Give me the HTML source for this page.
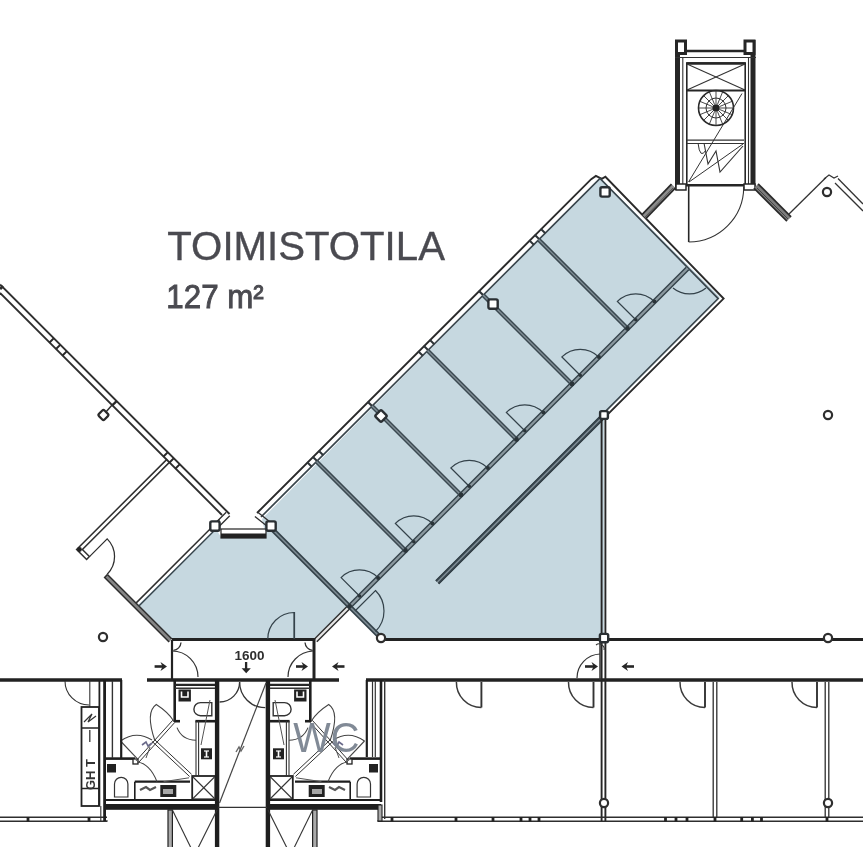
<!DOCTYPE html>
<html><head><meta charset="utf-8"><style>
html,body{margin:0;padding:0;background:#fff;}
body{width:863px;height:847px;overflow:hidden;}
svg{display:block;filter:blur(0.6px);}
</style></head><body>
<svg width="863" height="847" viewBox="0 0 863 847" shape-rendering="geometricPrecision">
<rect width="863" height="847" fill="#fff"/>
<polygon points="138,605 216,529 221,537 266,537 262,519 600,178 720,297 604,414 604,639 381,639 349,607 313,639 172,639" fill="#c6d8e0" stroke="none" stroke-width="1"/>
<line x1="0" y1="284.5" x2="229.5" y2="514" stroke="#2e2e2e" stroke-width="1.9" />
<line x1="0" y1="293" x2="222" y2="515" stroke="#2e2e2e" stroke-width="1.9" />
<line x1="226.2" y1="512.2" x2="214.2" y2="524.2" stroke="#2e2e2e" stroke-width="1.3" />
<line x1="229.8" y1="515.8" x2="217.8" y2="527.8" stroke="#2e2e2e" stroke-width="1.3" />
<line x1="53.9" y1="338.1" x2="49.3" y2="342.7" stroke="#2a2a2a" stroke-width="2.0" />
<line x1="60.4" y1="344.6" x2="55.8" y2="349.2" stroke="#2a2a2a" stroke-width="2.0" />
<line x1="66.9" y1="351.1" x2="62.3" y2="355.7" stroke="#2a2a2a" stroke-width="2.0" />
<line x1="116.8" y1="400.9" x2="112.2" y2="405.5" stroke="#2a2a2a" stroke-width="2.4" />
<line x1="167.9" y1="452.1" x2="163.3" y2="456.7" stroke="#2a2a2a" stroke-width="2.0" />
<line x1="173.9" y1="458.1" x2="169.3" y2="462.7" stroke="#2a2a2a" stroke-width="2.0" />
<line x1="179.9" y1="464.1" x2="175.3" y2="468.7" stroke="#2a2a2a" stroke-width="2.0" />
<line x1="0" y1="289" x2="3" y2="286" stroke="#2e2e2e" stroke-width="3" />
<line x1="113" y1="404" x2="105" y2="413" stroke="#2e2e2e" stroke-width="1.5" />
<polyline points="167.1,459.1 76.6,549.5 86.6,559.5 89.4,556.5 82.4,549.5 169.9,461.9" fill="none" stroke="#2e2e2e" stroke-width="1.5" stroke-linejoin="miter"/>
<circle cx="79.5" cy="549.5" r="2.4" fill="#222"/>
<path d="M89.5,556.6 L107.2,538.9 A25,25 0 0 1 107.2,574.3" fill="none" stroke="#2e2e2e" stroke-width="1.25" />
<polygon points="107.4,574.5 171.9,639 169.1,642 104.6,577.5" fill="#858585" stroke="none" stroke-width="1"/>
<polyline points="107.4,574.5 104.6,577.5 169.1,642" fill="none" stroke="#2e2e2e" stroke-width="1.5" stroke-linejoin="miter"/>
<polyline points="107.4,574.5 171.9,639" fill="none" stroke="#2e2e2e" stroke-width="1.5" stroke-linejoin="miter"/>
<polyline points="136,603.1 219.6,519.5" fill="none" stroke="#2e2e2e" stroke-width="1.5" stroke-linejoin="miter"/>
<polyline points="138.9,606 217.4,527.5" fill="none" stroke="#34424a" stroke-width="1.4" stroke-linejoin="miter"/>
<rect x="221" y="529" width="45" height="9" fill="#fff" stroke="#222" stroke-width="1.2"/>
<rect x="221" y="533.5" width="45" height="4.5" fill="#222"/>
<polyline points="257,513 591.2,179.2 595.9,175.9 601.8,178.9 605.4,176.8 723.6,298.6 438.5,583.5" fill="none" stroke="#2a2a2a" stroke-width="1.9" stroke-linejoin="miter"/>
<polyline points="261,517 600,178.5 718.2,298.6 436,581" fill="none" stroke="#39454c" stroke-width="1.7" stroke-linejoin="miter"/>
<polygon points="601.5,415.5 604,418 438.5,583.5 436,581" fill="#7d8b93" stroke="none" stroke-width="1"/>
<line x1="601.5" y1="415.5" x2="436" y2="581" stroke="#34424a" stroke-width="1.9" />
<line x1="604" y1="418" x2="438.5" y2="583.5" stroke="#34424a" stroke-width="1.9" />
<line x1="254.9" y1="516.5" x2="269.4" y2="528" stroke="#2e2e2e" stroke-width="1.3" />
<line x1="258.1" y1="512.5" x2="272.6" y2="524" stroke="#2e2e2e" stroke-width="1.3" />
<line x1="540.7" y1="228.7" x2="545.3" y2="233.3" stroke="#2e3438" stroke-width="2.0" />
<line x1="534.7" y1="234.7" x2="539.3" y2="239.3" stroke="#2e3438" stroke-width="2.0" />
<line x1="529.2" y1="240.2" x2="533.8" y2="244.8" stroke="#2e3438" stroke-width="2.0" />
<line x1="429.7" y1="339.7" x2="434.3" y2="344.3" stroke="#2e3438" stroke-width="2.0" />
<line x1="423.7" y1="345.7" x2="428.3" y2="350.3" stroke="#2e3438" stroke-width="2.0" />
<line x1="418.2" y1="351.2" x2="422.8" y2="355.8" stroke="#2e3438" stroke-width="2.0" />
<line x1="318.7" y1="450.7" x2="323.3" y2="455.3" stroke="#2e3438" stroke-width="2.0" />
<line x1="312.7" y1="456.7" x2="317.3" y2="461.3" stroke="#2e3438" stroke-width="2.0" />
<line x1="307.2" y1="462.2" x2="311.8" y2="466.8" stroke="#2e3438" stroke-width="2.0" />
<line x1="478.7" y1="290.7" x2="483.3" y2="295.3" stroke="#2e3438" stroke-width="2.2" />
<line x1="367.7" y1="401.7" x2="372.3" y2="406.3" stroke="#2e3438" stroke-width="2.2" />
<polygon points="686.2,267.2 347.7,605.7 350.3,608.3 688.8,269.8" fill="#8a989f"/>
<line x1="686.2" y1="267.2" x2="347.7" y2="605.7" stroke="#34424a" stroke-width="1.4" />
<line x1="688.8" y1="269.8" x2="350.3" y2="608.3" stroke="#34424a" stroke-width="1.4" />
<polygon points="347.7,605.7 314.2,639.2 316.8,641.8 350.3,608.3" fill="#e6e6e6"/>
<line x1="347.7" y1="605.7" x2="314.2" y2="639.2" stroke="#2e2e2e" stroke-width="1.4" />
<line x1="350.3" y1="608.3" x2="316.8" y2="641.8" stroke="#2e2e2e" stroke-width="1.4" />
<polygon points="537.5,240.5 626.5,329.5 628.5,327.5 539.5,238.5" fill="#7f8d95"/>
<line x1="537.5" y1="240.5" x2="626.5" y2="329.5" stroke="#3a4850" stroke-width="1.5" />
<line x1="539.5" y1="238.5" x2="628.5" y2="327.5" stroke="#3a4850" stroke-width="1.5" />
<polygon points="482,296 571,385 573,383 484,294" fill="#7f8d95"/>
<line x1="482" y1="296" x2="571" y2="385" stroke="#3a4850" stroke-width="1.5" />
<line x1="484" y1="294" x2="573" y2="383" stroke="#3a4850" stroke-width="1.5" />
<polygon points="426.5,351.5 515.5,440.5 517.5,438.5 428.5,349.5" fill="#7f8d95"/>
<line x1="426.5" y1="351.5" x2="515.5" y2="440.5" stroke="#3a4850" stroke-width="1.5" />
<line x1="428.5" y1="349.5" x2="517.5" y2="438.5" stroke="#3a4850" stroke-width="1.5" />
<polygon points="371,407 460,496 462,494 373,405" fill="#7f8d95"/>
<line x1="371" y1="407" x2="460" y2="496" stroke="#3a4850" stroke-width="1.5" />
<line x1="373" y1="405" x2="462" y2="494" stroke="#3a4850" stroke-width="1.5" />
<polygon points="315.5,462.5 404.5,551.5 406.5,549.5 317.5,460.5" fill="#7f8d95"/>
<line x1="315.5" y1="462.5" x2="404.5" y2="551.5" stroke="#3a4850" stroke-width="1.5" />
<line x1="317.5" y1="460.5" x2="406.5" y2="549.5" stroke="#3a4850" stroke-width="1.5" />
<polygon points="269.4,528.6 379.9,639.1 382.1,636.9 271.6,526.4" fill="#7f8d95"/>
<line x1="269.4" y1="528.6" x2="379.9" y2="639.1" stroke="#34424a" stroke-width="1.6" />
<line x1="271.6" y1="526.4" x2="382.1" y2="636.9" stroke="#34424a" stroke-width="1.6" />
<path d="M635.8,319.8 L617.4,301.4 A26,26 0 0 1 654.1,301.4" fill="none" stroke="#34424a" stroke-width="1.25" />
<circle cx="627.5" cy="328.5" r="2.4" fill="#2a3439"/>
<circle cx="654.4" cy="301.6" r="2" fill="#2a3439"/>
<circle cx="635.8" cy="319.8" r="1.8" fill="#2a3439"/>
<path d="M580.2,375.2 L561.9,356.9 A26,26 0 0 1 598.6,356.9" fill="none" stroke="#34424a" stroke-width="1.25" />
<circle cx="572" cy="384" r="2.4" fill="#2a3439"/>
<circle cx="598.9" cy="357.1" r="2" fill="#2a3439"/>
<circle cx="580.2" cy="375.2" r="1.8" fill="#2a3439"/>
<path d="M524.8,430.8 L506.4,412.4 A26,26 0 0 1 543.1,412.4" fill="none" stroke="#34424a" stroke-width="1.25" />
<circle cx="516.5" cy="439.5" r="2.4" fill="#2a3439"/>
<circle cx="543.4" cy="412.6" r="2" fill="#2a3439"/>
<circle cx="524.8" cy="430.8" r="1.8" fill="#2a3439"/>
<path d="M469.2,486.2 L450.9,467.9 A26,26 0 0 1 487.6,467.9" fill="none" stroke="#34424a" stroke-width="1.25" />
<circle cx="461" cy="495" r="2.4" fill="#2a3439"/>
<circle cx="487.9" cy="468.1" r="2" fill="#2a3439"/>
<circle cx="469.2" cy="486.2" r="1.8" fill="#2a3439"/>
<path d="M413.8,541.8 L395.4,523.4 A26,26 0 0 1 432.1,523.4" fill="none" stroke="#34424a" stroke-width="1.25" />
<circle cx="405.5" cy="550.5" r="2.4" fill="#2a3439"/>
<circle cx="432.4" cy="523.6" r="2" fill="#2a3439"/>
<circle cx="413.8" cy="541.8" r="1.8" fill="#2a3439"/>
<path d="M359.5,596 L341.1,577.6 A26,26 0 0 1 377.9,577.6" fill="none" stroke="#34424a" stroke-width="1.25" />
<circle cx="349.5" cy="606.5" r="2.4" fill="#2a3439"/>
<circle cx="378.1" cy="577.9" r="2" fill="#2a3439"/>
<circle cx="359.5" cy="596" r="1.8" fill="#2a3439"/>
<path d="M673,288 A26,26 0 0 0 706,288" fill="none" stroke="#34424a" stroke-width="1.25" />
<path d="M355,611 L375.5,590.5 A29,29 0 0 1 375.5,631.5" fill="none" stroke="#34424a" stroke-width="1.2" />
<line x1="172" y1="639.6" x2="314" y2="639.6" stroke="#222" stroke-width="3" />
<line x1="381" y1="639.6" x2="863" y2="639.6" stroke="#222" stroke-width="3" />
<path d="M294.3,639 L294.3,612.5 A26.5,26.5 0 0 0 267.8,639" fill="none" stroke="#34424a" stroke-width="1.2" />
<line x1="294.3" y1="612" x2="294.3" y2="639" stroke="#34424a" stroke-width="1.6" />
<line x1="172" y1="640" x2="172" y2="680" stroke="#222" stroke-width="2.2" />
<line x1="314" y1="638" x2="314" y2="681" stroke="#222" stroke-width="3" />
<path d="M172,651 A26,26 0 0 1 198,677" fill="none" stroke="#333" stroke-width="1.2" />
<path d="M288,677 A26,26 0 0 1 313,651" fill="none" stroke="#333" stroke-width="1.2" />
<path d="M173.4,650.4 A8.5,8.5 0 0 0 181,642.5" fill="none" stroke="#333" stroke-width="1.3" />
<path d="M312.6,650.4 A8.5,8.5 0 0 1 305,642.5" fill="none" stroke="#333" stroke-width="1.3" />
<line x1="0" y1="680" x2="122" y2="680" stroke="#222" stroke-width="3.7" />
<line x1="147" y1="680" x2="339" y2="680" stroke="#222" stroke-width="3.7" />
<line x1="366" y1="680" x2="863" y2="680" stroke="#222" stroke-width="3.7" />
<line x1="601.6" y1="419" x2="601.6" y2="822" stroke="#262626" stroke-width="1.9" />
<line x1="605.4" y1="419" x2="605.4" y2="822" stroke="#262626" stroke-width="1.9" />
<path d="M577,678 A24,24 0 0 1 600,654" fill="none" stroke="#333" stroke-width="1.2" />
<line x1="600" y1="640" x2="600" y2="680" stroke="#333" stroke-width="1.5" />
<path d="M596,645 A5,5 0 0 1 604,650" fill="none" stroke="#333" stroke-width="1.1" />
<line x1="154.6" y1="666.5" x2="164" y2="666.5" stroke="#262626" stroke-width="2.6" />
<path d="M160.5,662 L167,666.5 L160.5,671 L162.5,666.5 Z" fill="#262626"/>
<line x1="296" y1="666.5" x2="305" y2="666.5" stroke="#262626" stroke-width="2.6" />
<path d="M301.5,662 L308,666.5 L301.5,671 L303.5,666.5 Z" fill="#262626"/>
<line x1="344.5" y1="666.5" x2="335" y2="666.5" stroke="#262626" stroke-width="2.6" />
<path d="M338.5,662 L332,666.5 L338.5,671 L336.5,666.5 Z" fill="#262626"/>
<line x1="585" y1="666.5" x2="595" y2="666.5" stroke="#262626" stroke-width="2.6" />
<path d="M591.5,662 L598,666.5 L591.5,671 L593.5,666.5 Z" fill="#262626"/>
<line x1="634" y1="666.5" x2="624.5" y2="666.5" stroke="#262626" stroke-width="2.6" />
<path d="M628,662 L621.5,666.5 L628,671 L626,666.5 Z" fill="#262626"/>
<text x="0" y="0" font-family="Liberation Sans" font-size="12.6" font-weight="bold" fill="#2e2e2e" transform="translate(234.6,659.8) scale(1.07,1)">1600</text>
<line x1="246.1" y1="662" x2="246.1" y2="669.5" stroke="#262626" stroke-width="2.3" />
<path d="M241.6,668.3 L250.8,668.3 L246.2,673.2 Z" fill="#262626"/>
<line x1="378" y1="821.3" x2="863" y2="821.3" stroke="#2e2e2e" stroke-width="1.4" />
<line x1="378" y1="817.3" x2="863" y2="817.3" stroke="#2e2e2e" stroke-width="1.4" />
<line x1="0" y1="821.3" x2="107" y2="821.3" stroke="#2e2e2e" stroke-width="1.4" />
<line x1="0" y1="817.3" x2="107" y2="817.3" stroke="#2e2e2e" stroke-width="1.4" />
<line x1="28" y1="817" x2="28" y2="821.5" stroke="#222" stroke-width="2.8" />
<line x1="89" y1="817" x2="89" y2="821.5" stroke="#222" stroke-width="2.8" />
<line x1="392" y1="817" x2="392" y2="821.5" stroke="#222" stroke-width="2.8" />
<line x1="456" y1="817" x2="456" y2="821.5" stroke="#222" stroke-width="2.8" />
<line x1="493" y1="817" x2="493" y2="821.5" stroke="#222" stroke-width="2.8" />
<line x1="521" y1="817" x2="521" y2="821.5" stroke="#222" stroke-width="2.8" />
<line x1="530" y1="817" x2="530" y2="821.5" stroke="#222" stroke-width="2.8" />
<line x1="539" y1="817" x2="539" y2="821.5" stroke="#222" stroke-width="2.8" />
<line x1="665.5" y1="817" x2="665.5" y2="821.5" stroke="#222" stroke-width="2.8" />
<line x1="676" y1="817" x2="676" y2="821.5" stroke="#222" stroke-width="2.8" />
<line x1="687" y1="817" x2="687" y2="821.5" stroke="#222" stroke-width="2.8" />
<line x1="715" y1="817" x2="715" y2="821.5" stroke="#222" stroke-width="2.8" />
<line x1="741.7" y1="817" x2="741.7" y2="821.5" stroke="#222" stroke-width="2.8" />
<line x1="752.4" y1="817" x2="752.4" y2="821.5" stroke="#222" stroke-width="2.8" />
<line x1="761.5" y1="817" x2="761.5" y2="821.5" stroke="#222" stroke-width="2.8" />
<line x1="827" y1="817" x2="827" y2="821.5" stroke="#222" stroke-width="2.8" />
<line x1="713.2" y1="682" x2="713.2" y2="817" stroke="#2e2e2e" stroke-width="1.3" />
<line x1="716.8" y1="682" x2="716.8" y2="817" stroke="#2e2e2e" stroke-width="1.3" />
<line x1="825.2" y1="682" x2="825.2" y2="817" stroke="#2e2e2e" stroke-width="1.3" />
<line x1="828.8" y1="682" x2="828.8" y2="817" stroke="#2e2e2e" stroke-width="1.3" />
<line x1="481.4" y1="682" x2="481.4" y2="707.5" stroke="#333" stroke-width="1.9" />
<path d="M456.4,682 A25,25 0 0 0 481.4,707.5" fill="none" stroke="#3a3a3a" stroke-width="1.5" />
<line x1="593.5" y1="682" x2="593.5" y2="707.5" stroke="#333" stroke-width="1.9" />
<path d="M568.5,682 A25,25 0 0 0 593.5,707.5" fill="none" stroke="#3a3a3a" stroke-width="1.5" />
<line x1="705" y1="682" x2="705" y2="707.5" stroke="#333" stroke-width="1.9" />
<path d="M680,682 A25,25 0 0 0 705,707.5" fill="none" stroke="#3a3a3a" stroke-width="1.5" />
<line x1="817" y1="682" x2="817" y2="707.5" stroke="#333" stroke-width="1.9" />
<path d="M792,682 A25,25 0 0 0 817,707.5" fill="none" stroke="#3a3a3a" stroke-width="1.5" />
<text x="167.3" y="259.6" font-family="Liberation Sans" font-size="40.2" font-weight="normal" fill="#4a4a50" stroke="#4a4a50" stroke-width="0.35">TOIMISTOTILA</text>
<text x="0" y="0" font-family="Liberation Sans" font-size="32.8" fill="#4a4a50" stroke="#4a4a50" stroke-width="0.9" transform="translate(166.3,308.4) scale(0.955,1)">127 m²</text>
<rect x="675" y="40" width="5" height="150" fill="#262626"/>
<rect x="750.5" y="40" width="5" height="150" fill="#262626"/>
<rect x="676.5" y="41" width="9" height="12.5" fill="#fff" stroke="#262626" stroke-width="3"/>
<rect x="745" y="41" width="9" height="12.5" fill="#fff" stroke="#262626" stroke-width="3"/>
<line x1="686" y1="51" x2="745" y2="51" stroke="#262626" stroke-width="2.6" />
<line x1="675" y1="57.5" x2="756" y2="57.5" stroke="#333" stroke-width="1.2" />
<line x1="682.8" y1="57" x2="682.8" y2="189" stroke="#333" stroke-width="1.1" />
<line x1="748.5" y1="57" x2="748.5" y2="189" stroke="#333" stroke-width="1.1" />
<rect x="686.8" y="63" width="58.4" height="122" fill="none" stroke="#262626" stroke-width="1.6"/>
<line x1="686.8" y1="63.5" x2="745.2" y2="63.5" stroke="#262626" stroke-width="2.4" />
<line x1="687" y1="64" x2="745" y2="90" stroke="#333" stroke-width="1.1" />
<line x1="745" y1="64" x2="687" y2="90" stroke="#333" stroke-width="1.1" />
<line x1="686.8" y1="90.5" x2="745.2" y2="90.5" stroke="#262626" stroke-width="2.2" />
<circle cx="716" cy="108" r="17.5" fill="none" stroke="#2a2a2a" stroke-width="1.6"/>
<circle cx="716" cy="108" r="10" fill="none" stroke="#333" stroke-width="1.0"/>
<line x1="720" y1="108" x2="733.5" y2="108" stroke="#333" stroke-width="0.9" />
<line x1="719.7" y1="109.5" x2="732.2" y2="114.7" stroke="#333" stroke-width="0.9" />
<line x1="718.8" y1="110.8" x2="728.4" y2="120.4" stroke="#333" stroke-width="0.9" />
<line x1="717.5" y1="111.7" x2="722.7" y2="124.2" stroke="#333" stroke-width="0.9" />
<line x1="716" y1="112" x2="716" y2="125.5" stroke="#333" stroke-width="0.9" />
<line x1="714.5" y1="111.7" x2="709.3" y2="124.2" stroke="#333" stroke-width="0.9" />
<line x1="713.2" y1="110.8" x2="703.6" y2="120.4" stroke="#333" stroke-width="0.9" />
<line x1="712.3" y1="109.5" x2="699.8" y2="114.7" stroke="#333" stroke-width="0.9" />
<line x1="712" y1="108" x2="698.5" y2="108" stroke="#333" stroke-width="0.9" />
<line x1="712.3" y1="106.5" x2="699.8" y2="101.3" stroke="#333" stroke-width="0.9" />
<line x1="713.2" y1="105.2" x2="703.6" y2="95.6" stroke="#333" stroke-width="0.9" />
<line x1="714.5" y1="104.3" x2="709.3" y2="91.8" stroke="#333" stroke-width="0.9" />
<line x1="716" y1="104" x2="716" y2="90.5" stroke="#333" stroke-width="0.9" />
<line x1="717.5" y1="104.3" x2="722.7" y2="91.8" stroke="#333" stroke-width="0.9" />
<line x1="718.8" y1="105.2" x2="728.4" y2="95.6" stroke="#333" stroke-width="0.9" />
<line x1="719.7" y1="106.5" x2="732.2" y2="101.3" stroke="#333" stroke-width="0.9" />
<circle cx="716" cy="108" r="3.8" fill="#222" stroke="#222" stroke-width="0"/>
<line x1="742" y1="93.5" x2="688.5" y2="182" stroke="#333" stroke-width="1.0" />
<line x1="743" y1="144" x2="689" y2="182" stroke="#333" stroke-width="1.0" />
<line x1="687" y1="143.5" x2="744" y2="143.5" stroke="#333" stroke-width="1.2" />
<line x1="687" y1="140.1" x2="744" y2="140.1" stroke="#333" stroke-width="1.2" />
<path d="M704,143 L708,164 L716,151 L720,172 L743,146" fill="none" stroke="#333" stroke-width="1.1" />
<path d="M698,143 Q700,160 706,150" fill="none" stroke="#333" stroke-width="1.0" />
<line x1="686" y1="185.3" x2="746" y2="185.3" stroke="#262626" stroke-width="2.6" />
<rect x="676" y="184" width="10" height="6" fill="#fff" stroke="#262626" stroke-width="1.5"/>
<rect x="744" y="184" width="11" height="6" fill="#fff" stroke="#262626" stroke-width="1.5"/>
<line x1="688.7" y1="185" x2="688.7" y2="242" stroke="#262626" stroke-width="1.6" />
<path d="M743.7,187 A55,55 0 0 1 688.7,242" fill="none" stroke="#333" stroke-width="1.1" />
<polygon points="671.5,184.1 642,214.6 646,218.4 675.5,187.9" fill="#8c8c8c"/>
<line x1="671.5" y1="184.1" x2="642" y2="214.6" stroke="#2a2a2a" stroke-width="1.7" />
<line x1="675.5" y1="187.9" x2="646" y2="218.4" stroke="#2a2a2a" stroke-width="1.7" />
<line x1="673" y1="188" x2="645" y2="217" stroke="#555" stroke-width="1.0" />
<polygon points="753.9,188.1 786.9,221.1 791.1,216.9 758.1,183.9" fill="#7c7c7c"/>
<line x1="753.9" y1="188.1" x2="786.9" y2="221.1" stroke="#2a2a2a" stroke-width="1.7" />
<line x1="758.1" y1="183.9" x2="791.1" y2="216.9" stroke="#2a2a2a" stroke-width="1.7" />
<line x1="757" y1="188" x2="788" y2="219" stroke="#444" stroke-width="1.0" />
<line x1="789" y1="214" x2="826" y2="177.5" stroke="#333" stroke-width="1.3" />
<path d="M824,179 L829,175 L834,178 L838,176" fill="none" stroke="#333" stroke-width="1.2" />
<line x1="838" y1="178.5" x2="863" y2="204" stroke="#333" stroke-width="1.3" />
<line x1="835" y1="183" x2="863" y2="211" stroke="#333" stroke-width="1.3" />
<g><line x1="104" y1="758.6" x2="135" y2="758.6" stroke="#1e1e1e" stroke-width="2.6" /><rect x="133" y="759" width="5" height="5" fill="#fff" stroke="#222" stroke-width="1.3"/><rect x="107" y="764" width="9" height="8.5" fill="#222"/><path d="M114.5,797 L114.5,784 A6.7,6.7 0 0 1 127.9,784 L127.9,797 Z" fill="#fff" stroke="#333" stroke-width="1.2"/><line x1="104" y1="800" x2="218" y2="800" stroke="#1e1e1e" stroke-width="2.2" /><rect x="104" y="804" width="114" height="5.8" fill="#1e1e1e"/><line x1="134.8" y1="781.7" x2="134.8" y2="800" stroke="#1e1e1e" stroke-width="1.6" /><line x1="134.8" y1="781.7" x2="190" y2="781.7" stroke="#1e1e1e" stroke-width="2.2" /><rect x="160.3" y="785" width="16" height="12" fill="#222"/><rect x="163" y="789" width="10" height="5" fill="#fff" opacity="0.6"/><path d="M140,790 L146,787 L150,790 L156,787" fill="none" stroke="#555" stroke-width="2.2" /><rect x="192.2" y="776" width="23.1" height="23.3" fill="none" stroke="#222" stroke-width="1.8"/><line x1="193" y1="777" x2="214.5" y2="798.5" stroke="#333" stroke-width="1.1" /><line x1="214.5" y1="777" x2="193" y2="798.5" stroke="#333" stroke-width="1.1" /><line x1="174.7" y1="680" x2="174.7" y2="722" stroke="#1e1e1e" stroke-width="2.6" /><line x1="174.7" y1="721.2" x2="180" y2="721.2" stroke="#1e1e1e" stroke-width="2.6" /><line x1="195.4" y1="721.2" x2="216" y2="721.2" stroke="#1e1e1e" stroke-width="2.6" /><line x1="196" y1="721" x2="196" y2="776" stroke="#333" stroke-width="1.1" /><line x1="198.6" y1="721" x2="198.6" y2="776" stroke="#333" stroke-width="1.1" /><line x1="217.1" y1="680" x2="217.1" y2="847" stroke="#1e1e1e" stroke-width="4.4" /><line x1="175" y1="684.9" x2="215" y2="684.9" stroke="#262626" stroke-width="2.4" /><line x1="175" y1="688.3" x2="215" y2="688.3" stroke="#333" stroke-width="1.4" /><rect x="178.5" y="689.5" width="12.4" height="12" fill="#222"/><path d="M181.5,691.5 L181.5,697 L188,697 L188,691.5" fill="none" stroke="#fff" stroke-width="1.6"/><path d="M211.8,702.6 L200.5,702.6 A6.6,6.6 0 0 0 200.5,715.8 L211.8,715.8 Z" fill="#fff" stroke="#333" stroke-width="1.4"/><rect x="201" y="748.3" width="11" height="11" fill="#222"/><line x1="206.5" y1="751" x2="206.5" y2="757" stroke="#fff" stroke-width="1.6" /><line x1="204" y1="751" x2="209" y2="751" stroke="#fff" stroke-width="1.2" /><line x1="204" y1="757" x2="209" y2="757" stroke="#fff" stroke-width="1.2" /><line x1="138.3" y1="762.8" x2="175" y2="722.2" stroke="#333" stroke-width="1.0" /><line x1="136.1" y1="760.8" x2="172.8" y2="720.2" stroke="#333" stroke-width="1.0" /><line x1="152.1" y1="741.4" x2="189.6" y2="776.5" stroke="#333" stroke-width="1.0" /><line x1="154.1" y1="739.2" x2="191.6" y2="774.3" stroke="#333" stroke-width="1.0" /><path d="M155,741 Q145,712 156.3,704.5 Q168,712 173.9,721.2" fill="none" stroke="#444" stroke-width="1.1" /><path d="M120.5,741 Q136,730 152,740" fill="none" stroke="#444" stroke-width="1.1" /><line x1="120.5" y1="741" x2="137.2" y2="758.6" stroke="#444" stroke-width="1.1" /><path d="M137.2,761.8 Q150,764 157,781.7" fill="none" stroke="#444" stroke-width="1.1" /><path d="M177,727.6 Q182,740 196,740.3" fill="none" stroke="#444" stroke-width="1.1" /><line x1="163.5" y1="781.7" x2="189" y2="777.8" stroke="#555" stroke-width="1.0" /><path d="M210,700 L205,725 L201,745" fill="none" stroke="#555" stroke-width="1.0" /><path d="M150,747 L146,758" fill="none" stroke="#555" stroke-width="1.0" /><path d="M142,745 l4,-3 l2,4 l4,-3" fill="none" stroke="#6a6a8a" stroke-width="1.6"/><rect x="168" y="810" width="4.4" height="40" fill="#aaa" stroke="#222" stroke-width="1.2"/><line x1="172.4" y1="810" x2="192" y2="850" stroke="#333" stroke-width="1.1" /><line x1="217" y1="810" x2="197" y2="850" stroke="#333" stroke-width="1.1" /><line x1="104" y1="821" x2="108" y2="821" stroke="#333" stroke-width="1" /></g>
<g transform="matrix(-1,0,0,1,485,0)"><line x1="104" y1="758.6" x2="135" y2="758.6" stroke="#1e1e1e" stroke-width="2.6" /><rect x="133" y="759" width="5" height="5" fill="#fff" stroke="#222" stroke-width="1.3"/><rect x="107" y="764" width="9" height="8.5" fill="#222"/><path d="M114.5,797 L114.5,784 A6.7,6.7 0 0 1 127.9,784 L127.9,797 Z" fill="#fff" stroke="#333" stroke-width="1.2"/><line x1="104" y1="800" x2="218" y2="800" stroke="#1e1e1e" stroke-width="2.2" /><rect x="104" y="804" width="114" height="5.8" fill="#1e1e1e"/><line x1="134.8" y1="781.7" x2="134.8" y2="800" stroke="#1e1e1e" stroke-width="1.6" /><line x1="134.8" y1="781.7" x2="190" y2="781.7" stroke="#1e1e1e" stroke-width="2.2" /><rect x="160.3" y="785" width="16" height="12" fill="#222"/><rect x="163" y="789" width="10" height="5" fill="#fff" opacity="0.6"/><path d="M140,790 L146,787 L150,790 L156,787" fill="none" stroke="#555" stroke-width="2.2" /><rect x="192.2" y="776" width="23.1" height="23.3" fill="none" stroke="#222" stroke-width="1.8"/><line x1="193" y1="777" x2="214.5" y2="798.5" stroke="#333" stroke-width="1.1" /><line x1="214.5" y1="777" x2="193" y2="798.5" stroke="#333" stroke-width="1.1" /><line x1="174.7" y1="680" x2="174.7" y2="722" stroke="#1e1e1e" stroke-width="2.6" /><line x1="174.7" y1="721.2" x2="180" y2="721.2" stroke="#1e1e1e" stroke-width="2.6" /><line x1="195.4" y1="721.2" x2="216" y2="721.2" stroke="#1e1e1e" stroke-width="2.6" /><line x1="196" y1="721" x2="196" y2="776" stroke="#333" stroke-width="1.1" /><line x1="198.6" y1="721" x2="198.6" y2="776" stroke="#333" stroke-width="1.1" /><line x1="217.1" y1="680" x2="217.1" y2="847" stroke="#1e1e1e" stroke-width="4.4" /><line x1="175" y1="684.9" x2="215" y2="684.9" stroke="#262626" stroke-width="2.4" /><line x1="175" y1="688.3" x2="215" y2="688.3" stroke="#333" stroke-width="1.4" /><rect x="178.5" y="689.5" width="12.4" height="12" fill="#222"/><path d="M181.5,691.5 L181.5,697 L188,697 L188,691.5" fill="none" stroke="#fff" stroke-width="1.6"/><path d="M211.8,702.6 L200.5,702.6 A6.6,6.6 0 0 0 200.5,715.8 L211.8,715.8 Z" fill="#fff" stroke="#333" stroke-width="1.4"/><rect x="201" y="748.3" width="11" height="11" fill="#222"/><line x1="206.5" y1="751" x2="206.5" y2="757" stroke="#fff" stroke-width="1.6" /><line x1="204" y1="751" x2="209" y2="751" stroke="#fff" stroke-width="1.2" /><line x1="204" y1="757" x2="209" y2="757" stroke="#fff" stroke-width="1.2" /><line x1="138.3" y1="762.8" x2="175" y2="722.2" stroke="#333" stroke-width="1.0" /><line x1="136.1" y1="760.8" x2="172.8" y2="720.2" stroke="#333" stroke-width="1.0" /><line x1="152.1" y1="741.4" x2="189.6" y2="776.5" stroke="#333" stroke-width="1.0" /><line x1="154.1" y1="739.2" x2="191.6" y2="774.3" stroke="#333" stroke-width="1.0" /><path d="M155,741 Q145,712 156.3,704.5 Q168,712 173.9,721.2" fill="none" stroke="#444" stroke-width="1.1" /><path d="M120.5,741 Q136,730 152,740" fill="none" stroke="#444" stroke-width="1.1" /><line x1="120.5" y1="741" x2="137.2" y2="758.6" stroke="#444" stroke-width="1.1" /><path d="M137.2,761.8 Q150,764 157,781.7" fill="none" stroke="#444" stroke-width="1.1" /><path d="M177,727.6 Q182,740 196,740.3" fill="none" stroke="#444" stroke-width="1.1" /><line x1="163.5" y1="781.7" x2="189" y2="777.8" stroke="#555" stroke-width="1.0" /><path d="M210,700 L205,725 L201,745" fill="none" stroke="#555" stroke-width="1.0" /><path d="M150,747 L146,758" fill="none" stroke="#555" stroke-width="1.0" /><path d="M142,745 l4,-3 l2,4 l4,-3" fill="none" stroke="#6a6a8a" stroke-width="1.6"/><rect x="168" y="810" width="4.4" height="40" fill="#aaa" stroke="#222" stroke-width="1.2"/><line x1="172.4" y1="810" x2="192" y2="850" stroke="#333" stroke-width="1.1" /><line x1="217" y1="810" x2="197" y2="850" stroke="#333" stroke-width="1.1" /><line x1="104" y1="821" x2="108" y2="821" stroke="#333" stroke-width="1" /></g>
<line x1="219.5" y1="803" x2="266" y2="683" stroke="#444" stroke-width="1.2" />
<path d="M239.6,682 A20,20 0 0 1 219.6,702" fill="none" stroke="#333" stroke-width="1.3" />
<path d="M239.6,682 A25.7,25.7 0 0 0 265.3,707.7" fill="none" stroke="#333" stroke-width="1.3" />
<path d="M236,752 l3,-5 l2,4 l3,-5" fill="none" stroke="#666" stroke-width="1.4"/>
<line x1="218" y1="807.3" x2="267" y2="807.3" stroke="#333" stroke-width="1.2" />
<path d="M65,681 A24,24 0 0 0 89,705" fill="none" stroke="#333" stroke-width="1.1" />
<line x1="89.8" y1="680" x2="89.8" y2="707" stroke="#333" stroke-width="1.1" />
<rect x="81.5" y="707" width="17.5" height="99" fill="none" stroke="#222" stroke-width="1.8"/>
<line x1="81.5" y1="728" x2="99" y2="728" stroke="#222" stroke-width="1.5" />
<line x1="81.5" y1="788.5" x2="99" y2="788.5" stroke="#222" stroke-width="1.5" />
<path d="M84,722 L92,714 L88,722 L96,716" fill="none" stroke="#333" stroke-width="1.2" />
<line x1="89.8" y1="730" x2="89.8" y2="742" stroke="#333" stroke-width="1.3" />
<text x="0" y="0" font-family="Liberation Sans" font-size="13" font-weight="bold" fill="#333" transform="translate(95,790) rotate(-90)">GH T</text>
<line x1="100.8" y1="806" x2="100.8" y2="821" stroke="#333" stroke-width="1.1" />
<line x1="105.3" y1="806" x2="105.3" y2="821" stroke="#333" stroke-width="1.1" />
<line x1="99.4" y1="680" x2="99.4" y2="806" stroke="#222" stroke-width="1.8" />
<line x1="104.6" y1="680" x2="104.6" y2="821" stroke="#1e1e1e" stroke-width="2.8" />
<line x1="112.4" y1="681" x2="112.4" y2="758" stroke="#333" stroke-width="1.4" />
<line x1="121.2" y1="680" x2="121.2" y2="758" stroke="#1e1e1e" stroke-width="2.2" />
<line x1="366.8" y1="680" x2="366.8" y2="757" stroke="#1e1e1e" stroke-width="2.2" />
<line x1="372.5" y1="681" x2="372.5" y2="757" stroke="#333" stroke-width="1.2" />
<line x1="375.3" y1="681" x2="375.3" y2="757" stroke="#333" stroke-width="1.2" />
<line x1="381" y1="680" x2="381" y2="802" stroke="#1e1e1e" stroke-width="2.6" />
<line x1="384.7" y1="680" x2="384.7" y2="819" stroke="#333" stroke-width="1.4" />
<rect x="378" y="805" width="4" height="16" fill="#aaa" stroke="#222" stroke-width="1.1"/>
<text x="0" y="0" font-family="Liberation Sans" font-size="42.5" fill="#7a8490" fill-opacity="0.95" transform="translate(293.3,751.8) scale(0.935,1)">WC</text>
<rect x="99.5" y="411.1" width="7.9" height="7.9" rx="1.6" fill="#fff" stroke="#2a2a2a" stroke-width="2.2" transform="rotate(45 103.5 415)"/>
<circle cx="103" cy="637" r="4.1" fill="#fff" stroke="#2e2e2e" stroke-width="2.2"/>
<rect x="210.3" y="521.4" width="9.3" height="9.3" rx="1.6" fill="#fff" stroke="#2a2f33" stroke-width="2.4"/>
<rect x="266.4" y="521.4" width="9.3" height="9.3" rx="1.6" fill="#fff" stroke="#2a2f33" stroke-width="2.4"/>
<rect x="600.4" y="187.3" width="9.3" height="9.3" rx="1.6" fill="#fff" stroke="#2a2f33" stroke-width="2.4"/>
<rect x="488.4" y="299.4" width="9.3" height="9.3" rx="1.6" fill="#fff" stroke="#2a2f33" stroke-width="2.4"/>
<rect x="376.6" y="411.6" width="8.8" height="8.8" rx="1.6" fill="#fff" stroke="#2a2f33" stroke-width="2.4" transform="rotate(45 381 416)"/>
<rect x="600.1" y="411.1" width="7.8" height="7.8" rx="1.6" fill="#fff" stroke="#2a2f33" stroke-width="2.4"/>
<rect x="599.9" y="633.9" width="8.3" height="8.3" rx="1.6" fill="#fff" stroke="#2a2f33" stroke-width="2.4"/>
<circle cx="381" cy="638" r="4.1" fill="#fff" stroke="#2e2e2e" stroke-width="2.2"/>
<circle cx="828" cy="638" r="4.1" fill="#fff" stroke="#2e2e2e" stroke-width="2.2"/>
<circle cx="828" cy="415" r="4.1" fill="#fff" stroke="#2e2e2e" stroke-width="2.2"/>
<circle cx="604" cy="803" r="4.1" fill="#fff" stroke="#2e2e2e" stroke-width="2.2"/>
<circle cx="828" cy="803" r="4.1" fill="#fff" stroke="#2e2e2e" stroke-width="2.2"/>
<circle cx="827" cy="192" r="4.1" fill="#fff" stroke="#2e2e2e" stroke-width="2.2"/>
</svg>
</body></html>
